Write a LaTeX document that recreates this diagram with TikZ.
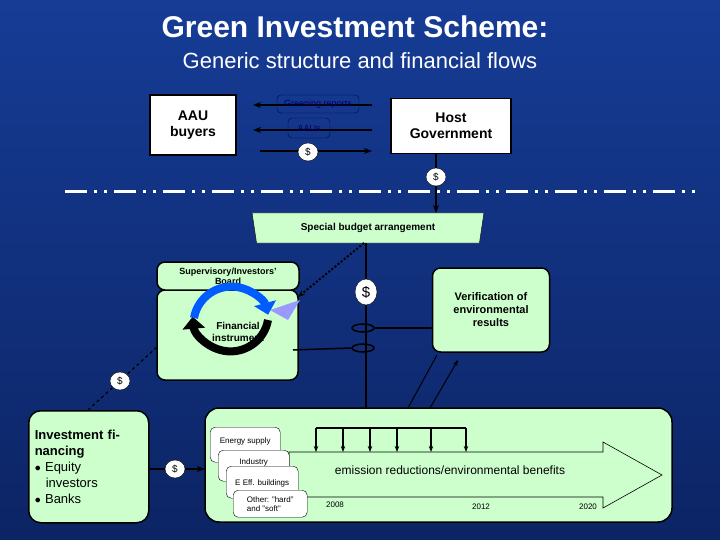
\documentclass[tikz,border=0pt]{standalone}
\usepackage{fontspec}
\setmainfont{Liberation Sans}
\usetikzlibrary{arrows.meta,shapes.geometric}
\definecolor{lg}{RGB}{204,255,204}
\definecolor{bgtop}{RGB}{22,60,150}
\definecolor{bgbot}{RGB}{12,36,100}
\begin{document}
\begin{tikzpicture}[x=1pt,y=-1pt,
  box/.style={draw=black,line width=1.5pt,fill=lg,rounded corners=8pt},
  wbox/.style={draw=black,line width=1.2pt,fill=white,align=center,font=\bfseries\fontsize{14}{16}\selectfont},
  dol/.style={ellipse,draw=black,fill=white,inner sep=1pt,minimum width=20pt,minimum height=18pt,font=\fontsize{10}{12}\selectfont},
  lab/.style={draw=black!70!blue,rounded corners=4pt,font=\fontsize{9}{10}\selectfont,text=black!60!blue,inner sep=2pt},
  sec/.style={draw=black,fill=white,rounded corners=5pt,font=\fontsize{8}{9}\selectfont,align=left,anchor=north west,inner sep=2pt},
  thk/.style={line width=2pt,-{Stealth[length=8pt]}},
]
\useasboundingbox (0,0) rectangle (720,540);
\shade[top color=bgtop,bottom color=bgbot] (0,0) rectangle (720,540);
\node[white,font=\bfseries\fontsize{30}{34}\selectfont] (t1) at (355,27) {Green Investment Scheme:};
\node[white,font=\fontsize{22}{26}\selectfont] (t2) at (360,61) {Generic structure and financial flows};
% top boxes
\node[wbox,minimum width=86pt,minimum height=60pt] (aau) at (193,125) {AAU\\buyers};
\node[wbox,minimum width=120pt,minimum height=55pt] (host) at (451,126) {Host\\Government};
\coordinate (r1) at (372,105); \coordinate (l1) at (253,105);
\coordinate (r2) at (372,130); \coordinate (l2) at (253,130);
\coordinate (l3) at (260,151); \coordinate (r3) at (372,151);
\draw[thk] (r1) -- (l1);
\draw[thk] (r2) -- (l2);
\draw[thk] (l3) -- (r3);
\node[lab,minimum width=82pt,minimum height=18pt] (gr) at (318,104) {Greening reports};
\node[lab,minimum width=42pt,minimum height=20pt] (aaus) at (309,128) {AAUs};
\node[dol] (d1) at (308,152) {\$};
% dash-dot line
\coordinate (dl) at (65,192); \coordinate (dr) at (700,192);
\draw[white,line width=3pt,dash pattern=on 22pt off 7pt on 3pt off 7pt on 3pt off 7pt] (dl) -- (dr);
% special budget
\node[trapezium,shape border rotate=180,trapezium stretches=true,draw=black,fill=lg,minimum width=232pt,minimum height=30pt,trapezium left angle=80,trapezium right angle=80,font=\bfseries\fontsize{10}{12}\selectfont] (sba) at (368,228) {Special budget arrangement};
\draw[thk] (host.south -| 436,0) -- (436,213);
\node[dol] (d2) at (436,177) {\$};
% supervisory
\draw[box] (157,290) rectangle (298,380);
\node[box,minimum width=142pt,minimum height=28pt,align=center,font=\bfseries\fontsize{9}{10}\selectfont,inner sep=1pt] (sup) at (228,276) {Supervisory/Investors'\\Board};
\coordinate (fb) at (298,340);
\draw[line width=8pt,black,-{Triangle[length=12pt,width=22pt]}] (268,320) arc (10:175:38);
\draw[line width=8pt,blue!40!cyan!60!blue,-{Triangle[length=12pt,width=22pt]}] (194,318) arc (190:345:38);
\fill[blue!40!white] (270,310) -- (300,300) -- (288,320) -- cycle;
\node[font=\bfseries\fontsize{10}{12}\selectfont,align=center] (fi) at (238,332) {Financial\\instrument};
% verification
\node[box,minimum width=117pt,minimum height=84pt,align=center,font=\bfseries\fontsize{11}{13}\selectfont] (ver) at (491,310) {Verification of\\environmental\\results};
% main vertical
\coordinate (vtop) at (366,243);
\coordinate (vbot) at (366,428);
\draw[thk] (vtop) -- (vbot);
\node[dol,minimum width=22pt,minimum height=26pt,font=\fontsize{15}{16}\selectfont] (d3) at (366,292) {\$};
\node[ellipse,draw=black,line width=1.5pt,minimum width=22pt,minimum height=8pt,inner sep=0pt] (e1) at (363,328) {};
\node[ellipse,draw=black,line width=1.5pt,minimum width=22pt,minimum height=8pt,inner sep=0pt] (e2) at (363,348) {};
\draw[line width=1.5pt] (e1.east) -- (ver.west |- e1);
\coordinate (fbr) at (293,350);
\draw[line width=1.5pt] (fbr) -- (e2.west);
\coordinate (dotA) at (364,243);
\draw[line width=2pt,dotted,-{Stealth[length=7pt]}] (dotA) -- (298,297);
% investment financing
\node[box,minimum width=120pt,minimum height=112pt,rounded corners=12pt,anchor=north west,align=left,text width=108pt,font=\fontsize{13}{16}\selectfont] (inv) at (28,410) {{\bfseries Investment financing}\\$\bullet$ Equity\\\hspace*{11pt}investors\\$\bullet$ Banks};
\coordinate (ivt) at (88,410);
\draw[line width=1.2pt,dashed] (ivt) -- (157,347);
\node[dol] (d4) at (120,381) {\$};
% bottom box
\draw[box,rounded corners=14pt] (205,408) rectangle (672,522);
\coordinate (bl) at (205,469);
\draw[thk] (inv.east |- bl) -- (bl);
\node[dol] (d5) at (175,469) {\$};
% big arrow
\draw[fill=lg,line width=0.6pt] (289,452) -- (603,452) -- (603,442) -- (662,475) -- (603,508) -- (603,497) -- (289,497) -- cycle;
\node[font=\fontsize{12}{14}\selectfont] (em) at (450,470) {emission reductions/environmental benefits};
% sectors
\node[sec,minimum width=70pt,minimum height=35pt] (s1) at (210,427) {Energy supply\\\mbox{}};
\node[sec,minimum width=71pt,minimum height=31pt] (s2) at (218,450) {Industry\\\mbox{}};
\node[sec,minimum width=72pt,minimum height=32pt] (s3) at (226,466) {\mbox{}\\E Eff. buildings};
\node[sec,minimum width=74pt,minimum height=27pt] (s4) at (233,490) {Other: "hard"\\and "soft"};
% bracket
\draw[line width=2pt] (316,428) -- (466,428);
\foreach \x in {316,343,370,397,431,466} \draw[thk,-{Stealth[length=6pt]}] (\x,428) -- (\x,452);
\node[font=\fontsize{8}{9}\selectfont] (y1) at (335,505) {2008};
\node[font=\fontsize{8}{9}\selectfont] (y2) at (481,507) {2012};
\node[font=\fontsize{8}{9}\selectfont] (y3) at (588,507) {2020};
% thin lines to verification
\coordinate (ta) at (408,408); \coordinate (tb) at (430,408);
\draw[line width=1pt] (ta) -- (437,355);
\draw[line width=1pt,-{Stealth[length=6pt]}] (tb) -- (458,360);
\end{tikzpicture}
\end{document}
